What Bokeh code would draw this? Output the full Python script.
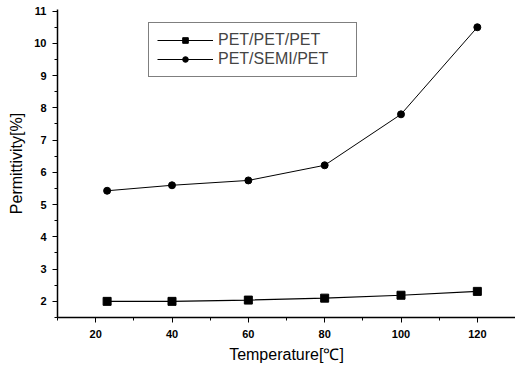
from bokeh.plotting import figure
from bokeh.models import Range1d, FixedTicker, Legend, LegendItem
from bokeh.embed import file_html
from bokeh.resources import INLINE

temps = [23, 40, 60, 80, 100, 120]
pet_pet_pet = [2.0, 2.0, 2.04, 2.1, 2.19, 2.31]
pet_semi_pet = [5.43, 5.6, 5.75, 6.22, 7.8, 10.5]
x_ticks = [20, 40, 60, 80, 100, 120]
x_minor = [10, 30, 50, 70, 90, 110, 130]
y_ticks = [2, 3, 4, 5, 6, 7, 8, 9, 10, 11]
y_minor = [1.5, 2.5, 3.5, 4.5, 5.5, 6.5, 7.5, 8.5, 9.5, 10.5]

FONT = "Liberation Sans"

p = figure(width=515, height=370, output_backend="svg", toolbar_location=None,
           x_range=Range1d(10, 130), y_range=Range1d(1.5, 11.05),
           min_border_left=57, min_border_bottom=53, min_border_top=9, min_border_right=0)
p.outline_line_color = None
p.xgrid.visible = False
p.ygrid.visible = False

r1l = p.line(temps, pet_pet_pet, line_color="black", line_width=1.2)
r1s = p.scatter(temps, pet_pet_pet, marker="square", size=8, color="black")
r2l = p.line(temps, pet_semi_pet, line_color="black", line_width=1)
r2s = p.scatter(temps, pet_semi_pet, marker="circle", size=7, color="black")

for ax in (p.xaxis[0], p.yaxis[0]):
    ax.axis_line_color = "black"
    ax.axis_line_width = 1.5
    ax.major_tick_line_color = "black"
    ax.minor_tick_line_color = "black"
    ax.major_tick_in = 0
    ax.major_tick_out = 5
    ax.minor_tick_in = 0
    ax.minor_tick_out = 3
    ax.major_label_text_font = FONT
    ax.major_label_text_font_style = "bold"
    ax.major_label_text_font_size = "11px"
    ax.major_label_text_color = "black"
    ax.axis_label_text_font = FONT
    ax.axis_label_text_font_style = "normal"
    ax.axis_label_text_font_size = "16px"
    ax.axis_label_text_color = "black"

p.xaxis[0].ticker = FixedTicker(ticks=x_ticks, minor_ticks=x_minor)
p.yaxis[0].ticker = FixedTicker(ticks=y_ticks, minor_ticks=y_minor)
p.xaxis[0].axis_label = "Temperature[℃]"
p.yaxis[0].axis_label = "Permittivity[%]"
p.xaxis[0].major_label_standoff = 7
p.xaxis[0].axis_label_standoff = 5
p.yaxis[0].major_label_standoff = 6
p.yaxis[0].axis_label_standoff = 6

legend = Legend(items=[LegendItem(label="PET/PET/PET", renderers=[r1l, r1s]),
                       LegendItem(label="PET/SEMI/PET", renderers=[r2l, r2s])],
                location=(91, 240))
legend.border_line_color = "black"
legend.border_line_width = 1.2
legend.background_fill_alpha = 1
legend.label_text_font = FONT
legend.label_text_font_size = "16px"
legend.glyph_width = 56
legend.glyph_height = 14
legend.label_height = 14
legend.label_width = 130
legend.spacing = 1
legend.padding = 8
legend.margin = 0
legend.label_standoff = 5
p.add_layout(legend, "center")

open("out.html", "w").write(file_html(p, INLINE))
